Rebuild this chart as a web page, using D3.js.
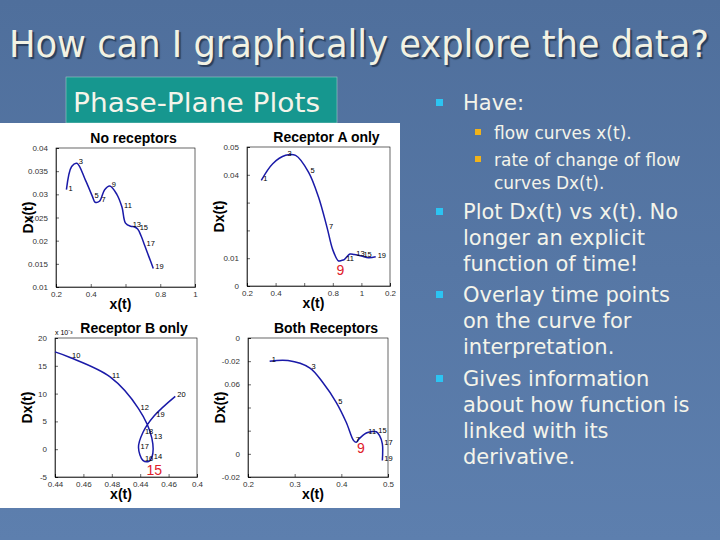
<!DOCTYPE html>
<meta charset="utf-8">
<style>
body { margin: 0; }
.slide text { font-family: "DejaVu Sans", Verdana, sans-serif; fill: #f4f4ea; }
.plot text { font-family: "Liberation Sans", Arial, sans-serif; fill: #000; }
.plot .domain, .plot .tick line { stroke: #000; stroke-width: 0.6; }
.plot .tick text { font-size: 8px; fill: #333; }
</style>
<svg width="720" height="540"></svg>
<script src="https://d3js.org/d3.v4.min.js"></script>
<script>

// Plot data: [time, x, Dx]
var noReceptors = [
  [1,0.26,0.031],[2,0.29,0.036],[3,0.32,0.0367],[4,0.37,0.033],[5,0.41,0.0295],
  [6,0.425,0.0283],[7,0.45,0.0285],[8,0.48,0.031],[9,0.51,0.0318],[10,0.55,0.030],
  [11,0.58,0.0272],[12,0.60,0.0238],[13,0.63,0.0231],[14,0.65,0.023],[15,0.67,0.0225],
  [16,0.69,0.021],[17,0.71,0.019],[18,0.735,0.0165],[19,0.76,0.014]
];
var receptorA = [
  [1,0.30,0.038],[2,0.38,0.044],[3,0.47,0.047],[4,0.54,0.047],[5,0.63,0.041],
  [6,0.70,0.032],[7,0.76,0.021],[8,0.80,0.013],[9,0.84,0.009],[10,0.86,0.0092],
  [11,0.88,0.0095],[12,0.92,0.0115],[13,0.95,0.0113],[15,1.0,0.0108],[17,1.05,0.0102],[19,1.1,0.0105]
];
var receptorB = [
  [9,0.44,17.5],[10,0.4506,16.5],[11,0.4788,13],[12,0.4988,7.3],[13,0.5082,2],
  [14,0.5082,-1.5],[15,0.5059,-2.2],[16,0.5019,-2],[17,0.4988,0.3],[18,0.5019,3],
  [19,0.5099,6],[20,0.5247,9.5]
];
var bothReceptors = [
  [1,0.2464,0.08],[2,0.2857,0.0806],[3,0.332,0.0743],[4,0.3607,0.0614],[5,0.3893,0.0443],
  [6,0.4107,0.0271],[7,0.4264,0.0114],[8,0.432,0.010],[9,0.4379,0.0129],[11,0.4536,0.018],
  [13,0.4643,0.0191],[15,0.475,0.0191],[16,0.482,0.0157],[17,0.4879,0.0086],[19,0.4879,-0.0057]
];

var plots = [
  { title: "No receptors", data: noReceptors, box: [56,148,195,287],
    xDom: [0.2,1], xTicks: [0.2,0.4,0.6,0.8,1], xLab: ["0.2","0.4","","0.8","1"],
    yDom: [0.01,0.04], yTicks: [0.01,0.015,0.02,0.025,0.03,0.035,0.04],
    yLab: ["0.01","0.015","0.02","0.025","0.03","0.035","0.04"],
    labels: [1,3,5,7,9,11,13,15,17,19], red: null },
  { title: "Receptor A only", data: receptorA, box: [247,147,390,286],
    xDom: [0.2,1.2], xTicks: [0.2,0.4,0.6,0.8,1,1.2], xLab: ["0.2","0.4","","0.8","1","0.2"],
    yDom: [0,0.05], yTicks: [0,0.01,0.02,0.03,0.04,0.05], yLab: ["0","0.01","","","0.04","0.05"],
    labels: [1,3,5,7,11,13,15,19], red: 9 },
  { title: "Receptor B only", data: receptorB, box: [55,338,197,477], exp: "x 10\u207B\u00B3",
    xDom: [0.44,0.54], xTicks: [0.44,0.46,0.48,0.50,0.52,0.54], xLab: ["0.44","0.46","0.48","0.44","0.46","0.4"],
    yDom: [-5,20], yTicks: [-5,0,5,10,15,20], yLab: ["-5","0","5","10","15","20"],
    labels: [10,11,12,13,14,16,17,18,19,20], red: 15 },
  { title: "Both Receptors", data: bothReceptors, box: [248,338,388,477],
    xDom: [0.2,0.5], xTicks: [0.2,0.3,0.4,0.5], xLab: ["0.2","0.3","0.4","0.5"],
    yDom: [-0.02,0.1], yTicks: [-0.02,0,0.02,0.04,0.06,0.08,0.1], yLab: ["-0.02","0","","","0.06","-0.02","0"],
    labels: [1,3,5,7,11,15,17,19], red: 9 }
];

var titleText = "How can I graphically explore the data?";
var bullets = [
  { lines: ["Have:"], y: 110, level: 0 },
  { lines: ["flow curves x(t)."], y: 139, level: 1 },
  { lines: ["rate of change of flow", "curves Dx(t)."], y: 166, level: 1 },
  { lines: ["Plot Dx(t) vs x(t). No", "longer an explicit", "function of time!"], y: 219, level: 0 },
  { lines: ["Overlay time points", "on the curve for", "interpretation."], y: 302, level: 0 },
  { lines: ["Gives information", "about how function is", "linked with its", "derivative."], y: 386, level: 0 }
];

var svg = d3.select("svg");

var defs = svg.append("defs");
var grad = defs.append("linearGradient").attr("id", "bg").attr("x1", 0).attr("y1", 0).attr("x2", 0).attr("y2", 1);
grad.append("stop").attr("offset", "0%").attr("stop-color", "#4f6f9c");
grad.append("stop").attr("offset", "100%").attr("stop-color", "#5d7fae");

var slide = svg.append("g").attr("class", "slide");
slide.append("rect").attr("width", 720).attr("height", 540).attr("fill", "url(#bg)");

slide.append("text").attr("x", 9).attr("y", 57).attr("font-size", 37)
  .attr("textLength", 700).attr("lengthAdjust", "spacingAndGlyphs")
  .style("fill", "#f2f2e4")
  .style("text-shadow", "2px 2px 1px #2a3f5c")
  .text(titleText);

slide.append("rect").attr("x", 66).attr("y", 77).attr("width", 271).attr("height", 46)
  .attr("fill", "#16978f").attr("stroke", "#9fc9c6").attr("stroke-width", 0.6);
slide.append("text").attr("x", 73).attr("y", 112).attr("font-size", 27)
  .attr("textLength", 247).attr("lengthAdjust", "spacingAndGlyphs").text("Phase-Plane Plots");

bullets.forEach(function(b) {
  var x = b.level ? 494 : 463, fs = b.level ? 17 : 21, lh = b.level ? 23 : 26;
  slide.append("rect").attr("x", x - (b.level ? 19 : 27)).attr("y", b.y - (b.level ? 10 : 11))
    .attr("width", b.level ? 6 : 7).attr("height", b.level ? 6 : 7)
    .attr("fill", b.level ? "#f0b21a" : "#2cc4f2");
  b.lines.forEach(function(l, i) {
    slide.append("text").attr("x", x).attr("y", b.y + i * lh).attr("font-size", fs).text(l);
  });
});

// white figure panel
svg.append("rect").attr("x", 0).attr("y", 123).attr("width", 400).attr("height", 385).attr("fill", "#fff");

plots.forEach(function(p) {
  var g = svg.append("g").attr("class", "plot");
  var x = d3.scaleLinear().domain(p.xDom).range([p.box[0], p.box[2]]);
  var y = d3.scaleLinear().domain(p.yDom).range([p.box[3], p.box[1]]);

  g.append("rect").attr("x", p.box[0]).attr("y", p.box[1])
    .attr("width", p.box[2] - p.box[0]).attr("height", p.box[3] - p.box[1])
    .attr("fill", "none").attr("stroke", "#000").attr("stroke-width", 0.6);

  g.append("g").attr("transform", "translate(0," + p.box[3] + ")")
    .call(d3.axisBottom(x).tickValues(p.xTicks).tickSize(-3).tickPadding(4)
      .tickFormat(function(d, i) { return p.xLab[i]; }));
  g.append("g").attr("transform", "translate(" + p.box[0] + ",0)")
    .call(d3.axisLeft(y).tickValues(p.yTicks).tickSize(-3).tickPadding(8)
      .tickFormat(function(d, i) { return p.yLab[i]; }));

  var line = d3.line().curve(d3.curveCatmullRom.alpha(0.5))
    .x(function(d) { return x(d[1]); }).y(function(d) { return y(d[2]); });
  g.append("path").datum(p.data).attr("d", line)
    .attr("fill", "none").attr("stroke", "#1a1aa8").attr("stroke-width", 1.5);

  g.selectAll(".lab").data(p.data.filter(function(d) { return p.labels.indexOf(d[0]) >= 0; }))
    .enter().append("text").attr("font-size", 7.5)
    .attr("x", function(d) { return x(d[1]) + 2; })
    .attr("y", function(d) { return y(d[2]) + 1; })
    .text(function(d) { return d[0]; });

  if (p.red !== null) {
    var r = p.data.filter(function(d) { return d[0] === p.red; })[0];
    g.append("text").attr("font-size", 14).style("fill", "#e0202a")
      .attr("x", x(r[1]) - 2).attr("y", y(r[2]) + 14).text(p.red);
  }

  var cx = (p.box[0] + p.box[2]) / 2;
  g.append("text").attr("x", cx + 8).attr("y", p.box[1] - 5).attr("text-anchor", "middle")
    .attr("font-size", 14).attr("font-weight", "bold").text(p.title);
  g.append("text").attr("x", cx - 5).attr("y", p.box[3] + 22).attr("text-anchor", "middle")
    .attr("font-size", 14).attr("font-weight", "bold").text("x(t)");
  g.append("text").attr("transform", "translate(" + (p.box[0] - 23) + "," + ((p.box[1] + p.box[3]) / 2) + ") rotate(-90)")
    .attr("text-anchor", "middle").attr("font-size", 14).attr("font-weight", "bold").text("Dx(t)");
  if (p.exp) {
    g.append("text").attr("x", p.box[0]).attr("y", p.box[1] - 3).attr("font-size", 7).text(p.exp);
  }
});
</script>
